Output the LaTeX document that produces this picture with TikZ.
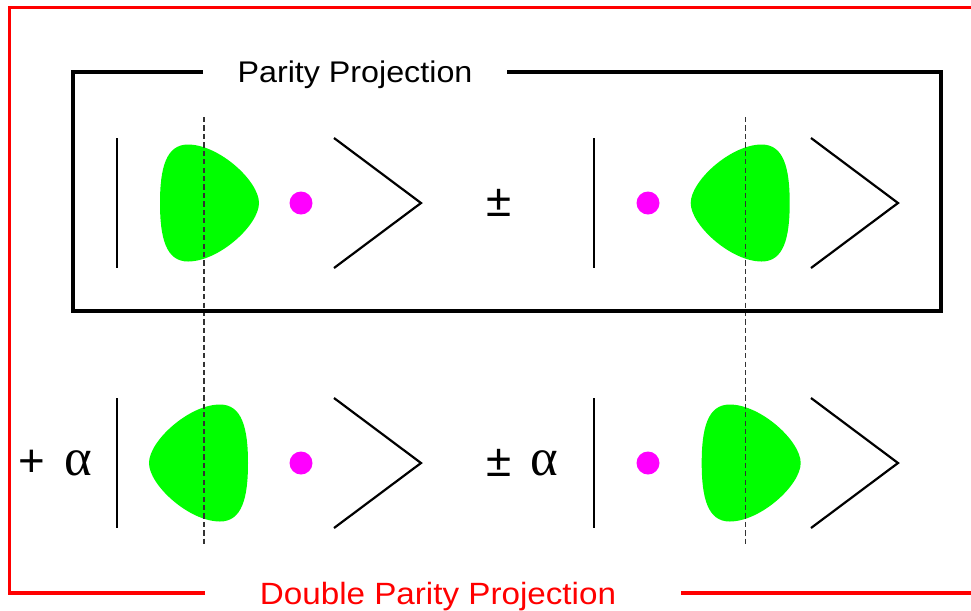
\documentclass[tikz,border=0pt]{standalone}
\usepackage{fontspec}
\setmainfont{Liberation Sans}
\newfontfamily\labelfont[FakeStretch=1.08]{Liberation Sans}
\newfontfamily\greekfont{Liberation Serif}
\usetikzlibrary{positioning, calc}
\definecolor{dotmagenta}{RGB}{255,0,255}
\definecolor{blobgreen}{RGB}{0,255,0}
\definecolor{framered}{RGB}{255,0,0}
\tikzset{
    ketdiagram/.style={x=0.02cm, y=-0.02cm},
    ketline/.style={line width=1.25pt},
    frame/.style={line width=2pt},
    redframe/.style={frame, framered},
    mirror/.style={line width=0.75pt, black!80, dash pattern=on 3pt off 1.8pt},
    dot/.style={circle, fill=dotmagenta, minimum size=4.6mm, inner sep=0pt},
    title/.style={font=\labelfont\fontsize{17}{20}\selectfont, inner sep=0pt},
    coeff/.style={font=\fontsize{26}{30}\selectfont, inner sep=0pt},
    % one wave packet, pointing right for 1 and left for -1
    pics/blob/.style={code={
        \fill[blobgreen, xscale=#1] (55,0) .. controls (55,-22) and (15,-58.5) .. (-16,-58.5)
            .. controls (-38,-58.5) and (-44,-35) .. (-44,0)
            .. controls (-44,35) and (-38,58.5) .. (-16,58.5)
            .. controls (15,58.5) and (55,22) .. cycle;
    }},
    pics/blob/.default=1,
    pics/ket/.style={code={
        \draw[ketline] (0,-65) -- (0,65);
        \draw[ketline] (217,-65) -- (304,0) -- (217,65);
    }},
}

\begin{document}
\begin{tikzpicture}[ketdiagram]
    \useasboundingbox (0,0) rectangle (971,610);

    \pic at (204,203)   {blob=1};
    \pic at (745.7,203) {blob=-1};
    \pic at (204,463)   {blob=-1};
    \pic at (745.7,463) {blob=1};

    \coordinate (mirL1) at (204,117);
    \coordinate (mirL2) at (204,545);
    \coordinate (mirR1) at (745.7,117);
    \coordinate (mirR2) at (745.7,545);
    \draw[mirror] (mirL1) -- (mirL2);
    \draw[mirror] (mirR1) -- (mirR2);

    \pic at (117,203) {ket};
    \pic at (594,203) {ket};
    \pic at (117,463) {ket};
    \pic at (594,463) {ket};

    \node[dot] (dotTL) at (301,203) {};
    \node[dot] (dotTR) at (648,203) {};
    \node[dot] (dotBL) at (301,463) {};
    \node[dot] (dotBR) at (648,463) {};

    \node[coeff] (pmT)    at (499,203) {±};
    \node[coeff] (plusB)  at (32,463)  {+};
    \node[coeff, font=\greekfont\fontsize{30}{34}\selectfont] (alphaL) at (78,463)  {α};
    \node[coeff] (pmB)    at (499,463) {±};
    \node[coeff, font=\greekfont\fontsize{30}{34}\selectfont] (alphaR) at (544,463) {α};

    % parity projection box
    \node[title] (pp) at (355,75) {Parity Projection};
    \coordinate (ppL) at (203,72);
    \coordinate (ppR) at (507,72);
    \draw[frame] (ppL) -| (73,311) -| (941,72) -- (ppR);

    % double parity projection frame
    \node[title, text=framered, font=\labelfont\fontsize{17.5}{20}\selectfont] (dpp) at (438,597) {Double Parity Projection};
    \coordinate (dppL) at (205,593);
    \coordinate (dppR) at (681,593);
    \draw[redframe] (dppL) -| (9.5,7.5) -- (990,7.5);
    \draw[redframe] (dppR) -- (990,593);
\end{tikzpicture}
\end{document}
